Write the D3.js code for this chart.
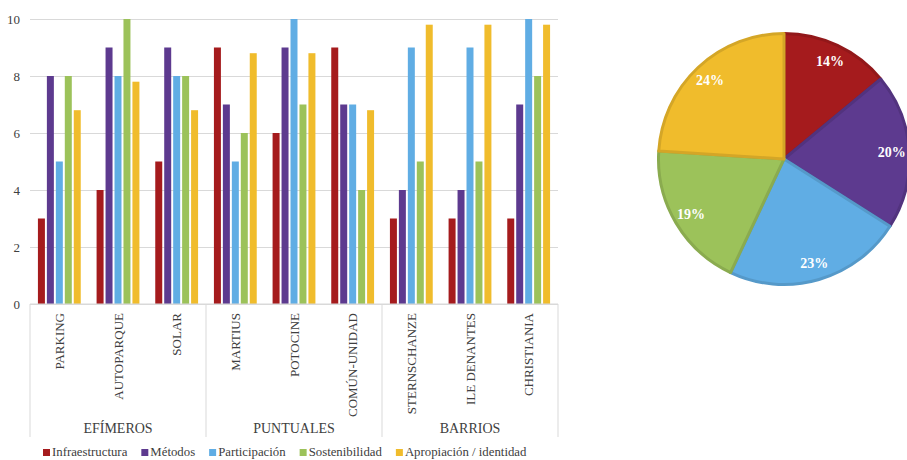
<!DOCTYPE html>
<html>
<head>
<meta charset="utf-8">
<script src="https://cdn.jsdelivr.net/npm/d3@7"></script>
<style>
  body { margin: 0; background: #fff; }
  svg text { font-family: "Liberation Serif", "DejaVu Serif", serif !important; }
</style>
</head>
<body>
<div id="chart"></div>
<script>
/* Data */
const categories = ["PARKING", "AUTOPARQUE", "SOLAR", "MARTIUS", "POTOCINE", "COMÚN-UNIDAD", "STERNSCHANZE", "ILE DENANTES", "CHRISTIANIA"]
const groups = ["EFÍMEROS", "PUNTUALES", "BARRIOS"]
const groupOf = ["EFÍMEROS", "EFÍMEROS", "EFÍMEROS", "PUNTUALES", "PUNTUALES", "PUNTUALES", "BARRIOS", "BARRIOS", "BARRIOS"]
const series = ["Infraestructura", "Métodos", "Participación", "Sostenibilidad", "Apropiación / identidad"]
const infraestructura = [3, 4, 5, 9, 6, 9, 3, 3, 3]
const metodos = [8, 9, 9, 7, 9, 7, 4, 4, 7]
const participacion = [5, 8, 8, 5, 10, 7, 9, 9, 10]
const sostenibilidad = [8, 10, 8, 6, 7, 4, 5, 5, 8]
const apropiacion = [6.8, 7.8, 6.8, 8.8, 8.8, 6.8, 9.8, 9.8, 9.8]
const yTicks = [0, 2, 4, 6, 8, 10]
const pieShares = [14, 20, 23, 19, 24]

/* Constants */
const WIDTH = 907
const HEIGHT = 460
const FONT = "'Liberation Serif', 'DejaVu Serif', serif"
const COLORS = ["#a51b1d", "#5d3a8f", "#60ade4", "#9cc25a", "#f0bc2c"]
const PLOT = { left: 30, right: 558, top: 19, bottom: 304 }
const SEP_BOTTOM = 437

const values = [infraestructura, metodos, participacion, sostenibilidad, apropiacion]
const color = d3.scaleOrdinal().domain(series).range(COLORS)

const svg = d3.select("#chart").append("svg")
              .attr("width", WIDTH)
              .attr("height", HEIGHT)
              .style("font-family", FONT)

/* Scales */
const xScale = d3.scaleBand()
                 .domain(categories)
                 .range([PLOT.left, PLOT.right])
                 .paddingInner(0.27)
                 .paddingOuter(0.135)
const xInner = d3.scaleBand()
                 .domain(series)
                 .range([0, xScale.bandwidth()])
                 .paddingInner(0.22)
const yScale = d3.scaleLinear().domain([0, 10]).range([PLOT.bottom, PLOT.top])

/* Gridlines + y labels */
const yAxis = d3.axisLeft(yScale)
                .tickValues(yTicks)
                .tickSize(-(PLOT.right - PLOT.left))
                .tickPadding(10)
svg.append("g")
   .attr("transform", "translate(" + PLOT.left + ",0)")
   .call(yAxis)
   .attr("font-family", FONT)
   .call(g => g.select(".domain").remove())
   .call(g => g.selectAll(".tick line").attr("stroke", "#d9d9d9").attr("stroke-width", 1))
   .call(g => g.selectAll(".tick text")
               .attr("fill", "#404040")
               .style("font-size", "13px"))

/* Bars */
const barData = []
categories.forEach((c, i) => {
  series.forEach((s, j) => barData.push({ cat: c, ser: s, val: values[j][i] }))
})
svg.append("g").selectAll("rect")
   .data(barData)
   .enter()
   .append("rect")
   .attr("x", d => xScale(d.cat) + xInner(d.ser))
   .attr("y", d => yScale(d.val))
   .attr("width", xInner.bandwidth())
   .attr("height", d => yScale(0) - yScale(d.val))
   .attr("fill", d => color(d.ser))

/* x axis line */
svg.append("line")
   .attr("x1", PLOT.left).attr("x2", PLOT.right)
   .attr("y1", PLOT.bottom).attr("y2", PLOT.bottom)
   .attr("stroke", "#d9d9d9")

/* category labels */
svg.append("g").selectAll("text")
   .data(categories)
   .enter()
   .append("text")
   .attr("transform", d => "translate(" + (xScale(d) + xScale.bandwidth() / 2) + "," + (PLOT.bottom + 9) + ") rotate(-90)")
   .attr("text-anchor", "end")
   .attr("dy", "0.35em")
   .attr("fill", "#404040")
   .style("font-size", "13px")
   .text(d => d)

/* group separators and labels */
const groupSpans = groups.map(g => {
  const idx = groupOf.map((v, i) => v === g ? i : -1).filter(i => i >= 0)
  const first = categories[idx[0]], last = categories[idx[idx.length - 1]]
  return {
    name: g,
    x0: xScale(first) - xScale.step() * xScale.paddingInner() / 2,
    x1: xScale(last) + xScale.bandwidth() + xScale.step() * xScale.paddingInner() / 2
  }
})
const sepX = [groupSpans[0].x0].concat(groupSpans.map(d => d.x1))
svg.append("g").selectAll("line")
   .data(sepX)
   .enter()
   .append("line")
   .attr("x1", d => d).attr("x2", d => d)
   .attr("y1", PLOT.bottom).attr("y2", SEP_BOTTOM)
   .attr("stroke", "#d9d9d9")
svg.append("g").selectAll("text")
   .data(groupSpans)
   .enter()
   .append("text")
   .attr("x", d => (d.x0 + d.x1) / 2)
   .attr("y", 433)
   .attr("text-anchor", "middle")
   .attr("fill", "#404040")
   .style("font-size", "14px")
   .text(d => d.name)

/* Legend */
const legend = svg.append("g").attr("transform", "translate(43,455)")
let lx = 0
series.forEach((s, i) => {
  const item = legend.append("g").attr("transform", "translate(" + lx + ",0)")
  item.append("rect").attr("x", 0).attr("y", -6).attr("width", 7).attr("height", 7).attr("fill", COLORS[i])
  const t = item.append("text").attr("x", 9).attr("y", 0).attr("dy", "0.1em")
                .attr("fill", "#404040").style("font-size", "12.8px").text(s)
  lx += 9 + t.node().getComputedTextLength() + 14
})

/* Pie */
const PIE_CX = 784, PIE_CY = 159, PIE_R = 127
const pie = d3.pie().sort(null).value(d => d)
const arc = d3.arc().innerRadius(0).outerRadius(PIE_R - 1.5)
const labelArc = d3.arc().innerRadius(108).outerRadius(108)
const pieG = svg.append("g").attr("transform", "translate(" + PIE_CX + "," + PIE_CY + ")")
const arcs = pie(pieShares)
pieG.selectAll("path")
    .data(arcs)
    .enter()
    .append("path")
    .attr("d", arc)
    .attr("fill", (d, i) => COLORS[i])
    .attr("stroke", (d, i) => d3.color(COLORS[i]).darker(0.35))
    .attr("stroke-width", 3)
    .attr("stroke-linejoin", "round")
pieG.selectAll("text")
    .data(arcs)
    .enter()
    .append("text")
    .attr("transform", d => "translate(" + labelArc.centroid(d) + ")")
    .attr("text-anchor", "middle")
    .attr("dy", "0.35em")
    .attr("fill", "#fff")
    .style("font-size", "14px")
    .style("font-weight", "bold")
    .text(d => d.data + "%")
</script>
</body>
</html>
